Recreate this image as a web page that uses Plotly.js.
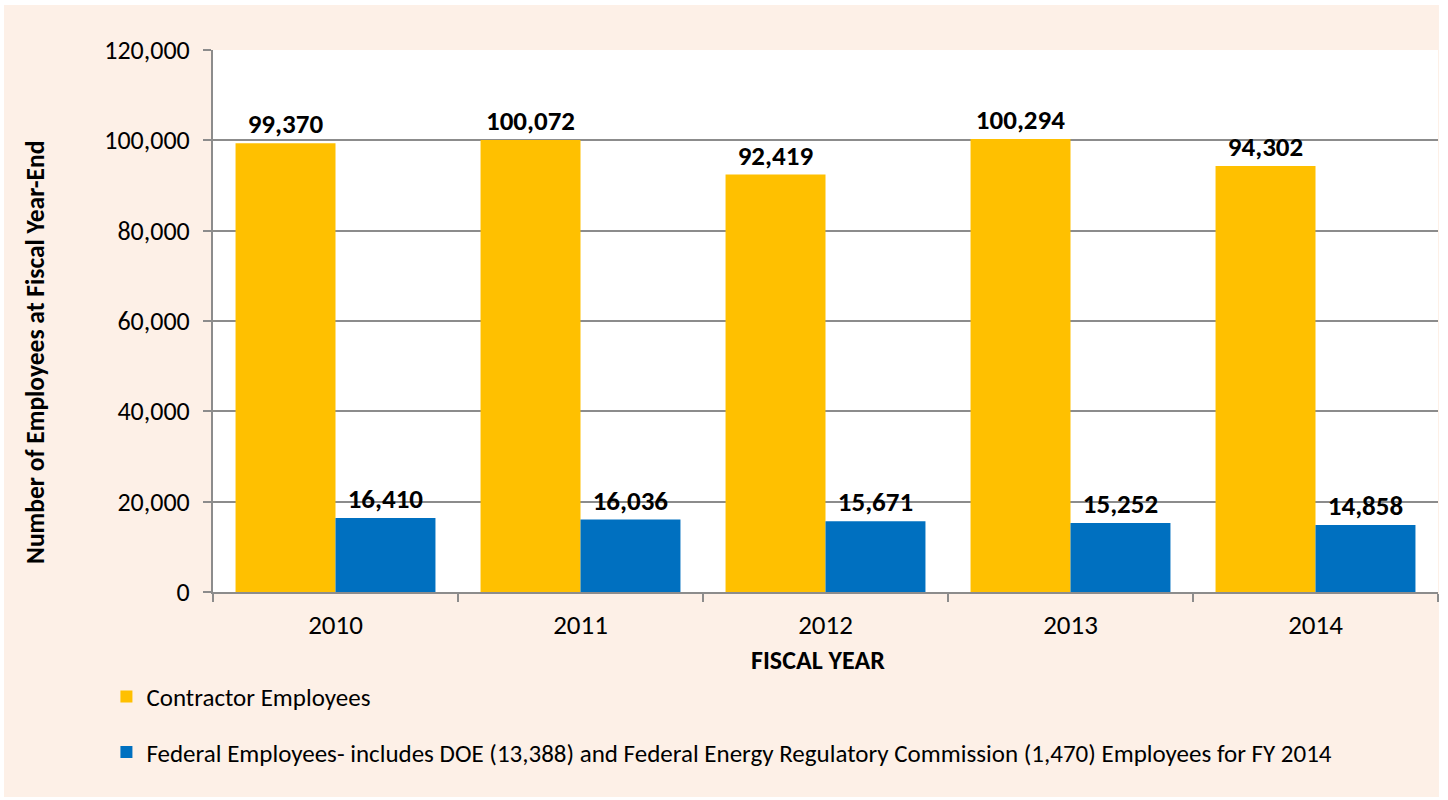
<!DOCTYPE html>
<html>
<head>
<meta charset="utf-8">
<script src="https://cdn.plot.ly/plotly-3.0.1.min.js"></script>
<style>
  html, body { margin: 0; padding: 0; background: #ffffff; }
  #chart { position: absolute; left: 4px; top: 5px; width: 1435px; height: 792px; }
</style>
</head>
<body>
<div id="chart"></div>
<script>
const fiscalYears = ['2010', '2011', '2012', '2013', '2014'];
const contractorEmployees = [99370, 100072, 92419, 100294, 94302];
const federalEmployees = [16410, 16036, 15671, 15252, 14858];
const contractorName = 'Contractor Employees';
const federalName = 'Federal Employees- includes DOE (13,388) and Federal Energy Regulatory Commission (1,470) Employees for FY 2014';
const yTickValues = [0, 20000, 40000, 60000, 80000, 100000, 120000];
const yTickLabels = ['0', '20,000', '40,000', '60,000', '80,000', '100,000', '120,000'];
const xAxisTitle = 'FISCAL YEAR';
const yAxisTitle = 'Number of Employees at Fiscal Year-End';

const FONT = 'Carlito, Lato, "Open Sans", sans-serif';
const fmt = v => v.toLocaleString('en-US');

const traces = [
  {
    type: 'bar', name: contractorName, x: fiscalYears, y: contractorEmployees,
    marker: { color: '#FFC000' }, legendgroup: 'a',
    text: contractorEmployees.map(fmt), textposition: 'outside', cliponaxis: false,
    textfont: { family: FONT, size: 27, color: '#000000', weight: 'bold' },
    hoverinfo: 'x+y'
  },
  {
    type: 'bar', name: federalName, x: fiscalYears, y: federalEmployees,
    marker: { color: '#0070C0' }, legendgroup: 'b',
    text: federalEmployees.map(fmt), textposition: 'outside', cliponaxis: false,
    textfont: { family: FONT, size: 27, color: '#000000', weight: 'bold' },
    hoverinfo: 'x+y'
  }
];

const layout = {
  width: 1435, height: 792,
  paper_bgcolor: '#FDF0E7', plot_bgcolor: '#FFFFFF',
  margin: { l: 209, r: 1, t: 45, b: 205 },
  barmode: 'group', bargap: 0.184, bargroupgap: 0,
  font: { family: FONT, size: 25, color: '#000000' },
  showlegend: true,
  legend: {
    orientation: 'v', x: -0.087, xanchor: 'left', y: -0.151, yanchor: 'top',
    bgcolor: 'rgba(0,0,0,0)', tracegroupgap: 20, traceorder: 'grouped',
    font: { family: FONT, size: 25, color: '#000000' }
  },
  xaxis: {
    type: 'category', showgrid: false, showline: true, linecolor: '#8C8C8C', linewidth: 2,
    ticks: 'outside', tickson: 'boundaries', ticklen: 8, tickcolor: '#8C8C8C', tickwidth: 2,
    ticklabelstandoff: 8,
    tickfont: { family: FONT, size: 27, color: '#000000' }
  },
  yaxis: {
    range: [0, 120000], tickvals: yTickValues, ticktext: yTickLabels,
    showgrid: true, gridcolor: '#8C8C8C', gridwidth: 1.5, zeroline: false,
    showline: true, linecolor: '#8C8C8C', linewidth: 2,
    ticks: 'outside', ticklen: 8, tickcolor: '#8C8C8C', tickwidth: 2,
    ticklabelstandoff: 8,
    tickfont: { family: FONT, size: 26, color: '#000000' }
  },
  annotations: [
    {
      text: '<b>' + xAxisTitle + '</b>', xref: 'paper', yref: 'paper',
      x: 0.494, y: -0.1255, xanchor: 'center', yanchor: 'middle', showarrow: false,
      font: { family: FONT, size: 26, color: '#000000' }
    },
    {
      text: '<b>' + yAxisTitle + '</b>', xref: 'paper', yref: 'paper', textangle: -90,
      x: -0.1445, y: 0.443, xanchor: 'center', yanchor: 'middle', showarrow: false,
      font: { family: FONT, size: 25.5, color: '#000000' }
    }
  ]
};

Plotly.newPlot('chart', traces, layout, { displayModeBar: false, responsive: false });
</script>
</body>
</html>
